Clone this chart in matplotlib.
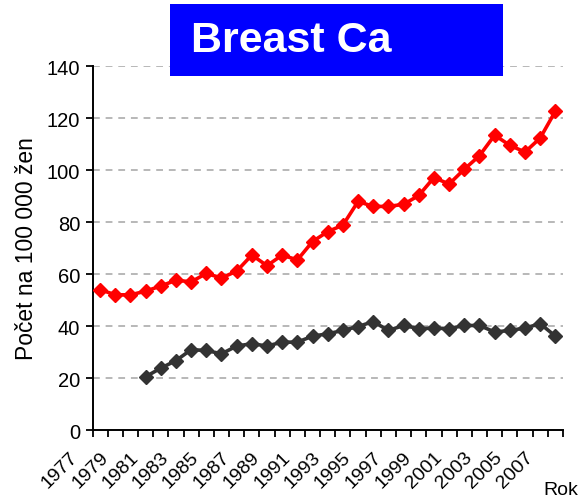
import matplotlib
matplotlib.use('Agg')
import matplotlib.pyplot as plt
import matplotlib.transforms as mtransforms
from matplotlib.patches import Rectangle

plt.rcParams['font.family'] = ['Liberation Sans', 'DejaVu Sans']

years = list(range(1977, 2008))
red_values = [54, 52, 52, 53.4, 55.4, 57.6, 57, 60.2, 58.5, 61.1, 67.3, 63.2, 67.3, 65.4,
              72.5, 76.3, 78.8, 87.9, 86, 86, 86.8, 90.2, 97.1, 94.6, 100.3, 105.5, 113.4,
              109.5, 106.9, 112.3, 122.6]
black_years = list(range(1980, 2008))
black_values = [20.5, 23.8, 26.7, 30.9, 30.6, 29.3, 32.3, 33.2, 32.3, 33.8, 33.8, 36.1,
                37, 38.3, 39.8, 41.7, 38.3, 40.2, 39, 39.2, 39, 40.2, 40.2, 37.7, 38.3,
                39.2, 40.9, 36.1]
tick_labels = [str(y) for y in years[::2]]

fig = plt.figure(figsize=(5.87, 5.02), dpi=100)
ax = fig.add_axes([0.1576, 0.1414, 0.959 - 0.1576, 0.8665 - 0.1414])

x_red = [years.index(y) for y in years]
x_black = [years.index(y) for y in black_years]

ax.plot(x_red, red_values, color='#ff0000', lw=2.6, marker='D', ms=7, zorder=3)
ax.plot(x_black, black_values, color='#333333', lw=2.6, marker='D', ms=7, zorder=3)

ax.set_xlim(-0.5, len(years) - 0.5)
ax.set_ylim(0, 140)
ax.set_yticks(range(0, 141, 20))
ax.yaxis.grid(True, color='#b8b8b8', linestyle=(0, (3.5, 3)), lw=1.4)
ax.set_axisbelow(True)

for s in ['top', 'right']:
    ax.spines[s].set_visible(False)
for s in ['left', 'bottom']:
    ax.spines[s].set_linewidth(1.4)

# tick marks on category boundaries, labels on odd years
ax.set_xticks([i - 0.5 for i in range(len(years) + 1)])
ax.set_xticklabels([])
ax.set_xticks(list(range(0, len(years), 2)), minor=True)
ax.set_xticklabels(tick_labels, minor=True, rotation=45, ha='right', va='top', fontsize=14)
ax.tick_params(axis='x', which='major', direction='out', length=5, width=1.3)
ax.tick_params(axis='x', which='minor', length=0, pad=13)
ax.tick_params(axis='y', direction='out', length=5, width=1.3, labelsize=14.5, pad=4)

offset = mtransforms.ScaledTranslation(-19 / 100, 0, fig.dpi_scale_trans)
for lab in ax.get_xticklabels(minor=True):
    lab.set_transform(lab.get_transform() + offset)

ax.set_ylabel('Počet na 100 000 žen', fontsize=16.5, labelpad=6)
fig.text(543 / 587, 1 - 491 / 502, 'Rok', fontsize=14, ha='left', va='center')

fig.add_artist(Rectangle((170 / 587, 1 - 77 / 502), 333 / 587, 72 / 502,
                         transform=fig.transFigure, facecolor='#0000ff',
                         edgecolor='none', zorder=10))
fig.text(191 / 587, 1 - 41 / 502, 'Breast Ca', color='white', fontsize=31,
         fontweight='bold', ha='left', va='center', zorder=11)

fig.savefig('out.png', dpi=100)
